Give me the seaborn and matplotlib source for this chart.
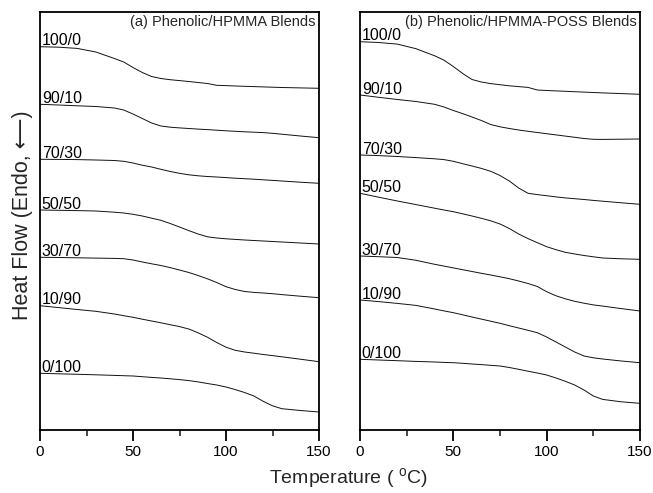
import numpy as np
import pandas as pd
import matplotlib
matplotlib.use("Agg")
import matplotlib.pyplot as plt
import seaborn as sns

# Temperature grid (deg C) at which curves were read
temps = [0, 10, 20, 30, 40, 45, 50, 55, 60, 65, 70, 75, 80, 85, 90, 95,
         100, 105, 110, 115, 120, 125, 130, 140, 150]

blends = ["100/0", "90/10", "70/30", "50/50", "30/70", "10/90", "0/100"]

# Offset heat-flow traces (arbitrary units, larger = further down), panel (a)
a_100_0 = [46.7, 47.2, 48.4, 52.0, 58.5, 62.0, 67.5, 72.5, 76.5, 78.5, 79.7, 80.6, 81.5, 82.5,
           83.5, 85.3, 85.6, 86.0, 86.3, 86.6, 86.9, 87.2, 87.5, 87.9, 88.3]
a_90_10 = [104.3, 105.0, 105.8, 106.5, 108.0, 110.0, 114.0, 118.5, 123.0, 126.0, 127.2, 127.9,
           128.5, 129.1, 129.6, 130.2, 130.8, 131.3, 131.8, 132.2, 132.6, 133.3, 134.2, 136.0, 137.7]
a_70_30 = [159.3, 159.4, 159.6, 160.0, 160.5, 161.3, 163.0, 165.2, 167.0, 169.3, 171.5, 173.3,
           174.8, 175.8, 176.5, 177.0, 177.6, 178.2, 178.7, 179.2, 179.8, 180.4, 181.0, 182.2, 183.3]
a_50_50 = [210.0, 210.3, 210.6, 211.0, 212.2, 213.0, 214.3, 216.0, 218.2, 220.3, 223.5, 227.0,
           230.6, 234.0, 236.8, 238.0, 238.8, 239.4, 240.0, 240.5, 241.0, 241.5, 242.0, 243.0, 244.0]
a_30_70 = [257.3, 257.5, 257.8, 258.1, 258.4, 258.7, 260.0, 262.0, 263.8, 265.5, 267.6, 270.0,
           272.5, 275.5, 278.8, 282.5, 286.7, 289.5, 291.5, 292.4, 293.0, 293.7, 294.6, 296.2, 297.7]
a_10_90 = [305.7, 307.6, 309.5, 311.3, 314.0, 315.7, 317.3, 319.2, 321.0, 322.8, 324.7, 326.6,
           329.0, 332.8, 337.2, 342.5, 347.2, 350.3, 352.0, 353.2, 354.5, 355.6, 356.8, 359.2, 361.7]
a_0_100 = [373.3, 373.8, 374.3, 374.8, 375.4, 375.7, 376.0, 376.7, 377.4, 378.0, 378.8, 379.6,
           380.6, 381.9, 383.5, 385.0, 387.0, 389.6, 392.5, 396.0, 401.3, 405.8, 408.7, 410.5, 412.0]

# Panel (b)
b_100_0 = [41.7, 42.5, 44.1, 48.7, 55.8, 60.2, 66.5, 73.5, 79.5, 82.0, 83.6, 84.7, 85.8, 86.6,
           87.4, 90.0, 90.5, 90.9, 91.3, 91.7, 92.1, 92.5, 92.9, 93.6, 94.3]
b_90_10 = [95.0, 97.3, 99.5, 101.5, 104.3, 107.0, 110.5, 113.6, 117.0, 120.5, 124.5, 126.8,
           128.5, 130.0, 131.3, 132.5, 133.7, 134.9, 136.1, 137.3, 138.5, 139.3, 139.4, 139.2, 139.0]
b_70_30 = [155.0, 155.6, 156.5, 157.6, 158.8, 159.6, 161.3, 163.7, 166.0, 168.4, 171.3, 175.5,
           181.0, 188.0, 193.3, 194.6, 195.7, 196.9, 197.9, 198.7, 199.5, 200.4, 201.2, 202.8, 204.3]
b_50_50 = [193.3, 197.2, 201.0, 204.6, 208.2, 210.0, 211.7, 213.8, 216.0, 218.3, 220.8, 224.0,
           228.5, 234.0, 238.6, 242.7, 246.7, 249.7, 252.3, 254.0, 255.5, 256.8, 258.0, 258.8, 259.3]
b_30_70 = [256.0, 256.7, 257.5, 260.3, 264.3, 266.1, 267.9, 269.7, 271.5, 273.3, 275.0, 276.8,
           278.7, 281.0, 283.5, 286.5, 291.7, 295.8, 298.8, 301.3, 303.2, 304.9, 306.1, 308.6, 311.0]
b_10_90 = [300.0, 301.6, 303.4, 305.4, 309.0, 310.9, 312.7, 314.8, 317.0, 319.1, 321.2, 323.3,
           325.7, 328.0, 330.3, 332.7, 337.0, 342.0, 347.0, 352.0, 356.0, 357.8, 359.0, 361.0, 362.7]
b_0_100 = [359.3, 360.0, 360.7, 361.4, 362.0, 362.4, 362.7, 363.3, 364.0, 364.6, 365.3, 366.0,
           367.5, 369.3, 371.2, 373.0, 375.0, 378.0, 381.3, 385.0, 390.0, 396.0, 399.4, 401.8, 403.3]

panel_a = [a_100_0, a_90_10, a_70_30, a_50_50, a_30_70, a_10_90, a_0_100]
panel_b = [b_100_0, b_90_10, b_70_30, b_50_50, b_30_70, b_10_90, b_0_100]

titles = ["(a) Phenolic/HPMMA Blends", "(b) Phenolic/HPMMA-POSS Blends"]
xticks = [0, 50, 100, 150]
xminor = [25, 75, 125]


def long_frame(series):
    rows = []
    for name, vals in zip(blends, series):
        for t, v in zip(temps, vals):
            rows.append({"T": t, "hf": v, "blend": name})
    return pd.DataFrame(rows)


sns.set_style("ticks")
plt.rcParams["font.family"] = ["Liberation Sans", "DejaVu Sans"]
plt.rcParams["mathtext.fontset"] = "custom"
plt.rcParams["mathtext.rm"] = "Liberation Sans"

fig = plt.figure(figsize=(6.53, 4.93), dpi=100)
W, H = 653.0, 493.0
ax_a = fig.add_axes([40 / W, 1 - 430 / H, 279 / W, 418 / H])
ax_b = fig.add_axes([360 / W, 1 - 430 / H, 280 / W, 418 / H])

for ax, series, title in zip([ax_a, ax_b], [panel_a, panel_b], titles):
    df = long_frame(series)
    sns.lineplot(data=df, x="T", y="hf", units="blend", estimator=None,
                 color="#111111", linewidth=0.7, ax=ax, legend=False)
    for name, vals in zip(blends, series):
        ax.text(1, vals[0] - 1.5, name, fontsize=11.5, ha="left", va="baseline",
                color="black")
    ax.set_xlim(0, 150)
    ax.set_ylim(430, 12)
    ax.set_xticks(xticks)
    ax.set_xticks(xminor, minor=True)
    ax.set_yticks([])
    ax.set_xlabel("")
    ax.set_ylabel("")
    ax.tick_params(axis="x", which="major", direction="out", length=8, width=1.3,
                   labelsize=11, pad=3, colors="black")
    ax.tick_params(axis="x", which="minor", direction="out", length=4.5, width=1.2)
    for sp in ax.spines.values():
        sp.set_visible(True)
        sp.set_linewidth(1.3)
        sp.set_color("black")
    ax.text(1 - 3 / 279, 1 - 3 / 418, title, transform=ax.transAxes, fontsize=10.5,
            ha="right", va="top")

fig.text(348 / W, 1 - 479 / H, "Temperature ( $^{\\mathregular{o}}$C)", ha="center",
         va="center", fontsize=14)
fig.text(23 / W, 1 - 215 / H, "Heat Flow (Endo, \u27f5)", rotation=90, ha="center",
         va="center", fontsize=15.5)

fig.savefig("out.png", dpi=100)
